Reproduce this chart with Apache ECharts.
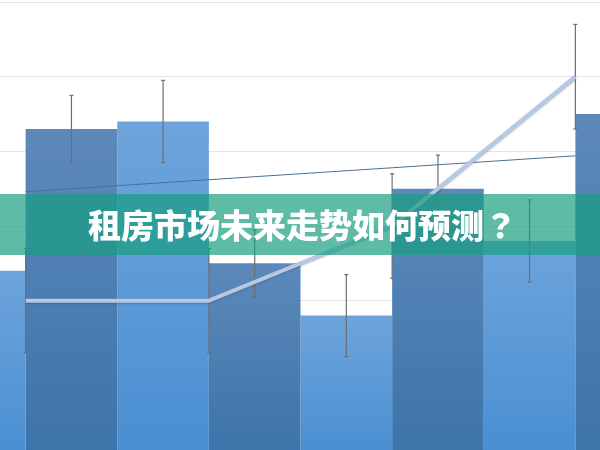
<!DOCTYPE html>
<html>
<head>
<meta charset="utf-8">
<script src="https://cdn.jsdelivr.net/npm/echarts@6/dist/echarts.min.js"></script>
<style>html,body{margin:0;padding:0;background:#fff}#c{width:600px;height:450px}</style>
</head>
<body>
<div id="c"></div>
<script>
var categories = ['一期', '二期', '三期', '四期'];
var lightVals = [24, 44, 18, 28];
var darkVals = [43, 25, 35, 45];
var lightErr = [5.5, 5.5, 5.5, 5.5];
var darkErr = [4.5, 4.5, 4.5, 4.5];
var lineVals = [20, 20, 30, 50];
var lineErr = [7, 7, 7, 7];
var trendVals = [34.6, 36.2, 37.8, 39.4];
var yTicks = [0, 10, 20, 30, 40, 50, 60];
var titleMain = '租房市场未来走势如何预测';
var titleMark = '？';

function errData(vals, errs, side) {
  return vals.map(function (v, i) { return [i, v - errs[i], v + errs[i], side]; });
}
var errAll = errData(lightVals, lightErr, -1)
  .concat(errData(darkVals, darkErr, 1));
var errLine = errData(lineVals, lineErr, 0);

function renderErr(params, api) {
  var i = api.value(0);
  var side = api.value(3);
  var band = api.size([1, 0])[0];
  var lo = api.coord([i, api.value(1)]);
  var hi = api.coord([i, api.value(2)]);
  var x = lo[0] + side * band / 4;
  var cap = 2;
  var st = { stroke: '#6b6f75', lineWidth: 1.2 };
  return {
    type: 'group',
    children: [
      { type: 'line', shape: { x1: x, y1: hi[1], x2: x, y2: lo[1] }, style: st },
      { type: 'line', shape: { x1: x - cap, y1: hi[1], x2: x + cap, y2: hi[1] }, style: st },
      { type: 'line', shape: { x1: x - cap, y1: lo[1], x2: x + cap, y2: lo[1] }, style: st }
    ]
  };
}

var chart = echarts.init(document.getElementById('c'));
chart.setOption({
  animation: false,
  backgroundColor: '#ffffff',
  grid: { left: -66, width: 733, top: 2, bottom: 0, containLabel: false, outerBoundsMode: 'none' },
  xAxis: {
    type: 'category', data: categories,
    axisLine: { show: false }, axisTick: { show: false }, axisLabel: { show: false }
  },
  yAxis: {
    type: 'value', min: yTicks[0], max: yTicks[yTicks.length - 1], interval: 10,
    axisLine: { show: false }, axisTick: { show: false }, axisLabel: { show: false },
    splitLine: { lineStyle: { color: '#e4e4e4', width: 1 } }
  },
  series: [
    {
      type: 'bar', data: lightVals, barGap: '0%', barCategoryGap: '0%', z: 2,
      itemStyle: { color: new echarts.graphic.LinearGradient(0, 0, 0, 1, [
        { offset: 0, color: '#6ea4db' }, { offset: 1, color: '#4a8fd2' }]) }
    },
    {
      type: 'bar', data: darkVals, barGap: '0%', barCategoryGap: '0%', z: 2,
      itemStyle: { color: new echarts.graphic.LinearGradient(0, 0, 0, 1, [
        { offset: 0, color: '#5d89ba' }, { offset: 1, color: '#3d74aa' }]) }
    },
    { type: 'custom', data: errAll, renderItem: renderErr, z: 3, encode: { x: 0, y: [1, 2] } },
    { type: 'custom', data: errLine, renderItem: renderErr, z: 3, encode: { x: 0, y: [1, 2] } },
    {
      type: 'line', data: trendVals, symbol: 'none', z: 4,
      lineStyle: { color: '#4b6f96', width: 1 }
    },
    {
      type: 'line', data: lineVals, symbol: 'none', z: 5,
      lineStyle: { color: '#b7c8e3', width: 4, shadowColor: 'rgba(40,60,100,0.35)', shadowBlur: 2, shadowOffsetY: 1 }
    }
  ],
  graphic: [
    {
      type: 'rect', z: 100,
      shape: { x: 0, y: 194, width: 600, height: 61 },
      style: { fill: 'rgba(24,158,128,0.7)' }
    },
    {
      type: 'text', z: 101,
      style: {
        text: '{a|' + titleMain + '}{b|' + titleMark + '}',
        x: 88, y: 225, textAlign: 'left', textVerticalAlign: 'middle',
        fill: '#ffffff',
        rich: {
          a: { fill: '#ffffff', fontFamily: 'Noto Sans CJK SC', fontWeight: 900, fontSize: 33 },
          b: { fill: '#ffffff', fontFamily: 'Noto Sans CJK JP', fontWeight: 900, fontSize: 33 }
        }
      }
    }
  ]
});
</script>
</body>
</html>
